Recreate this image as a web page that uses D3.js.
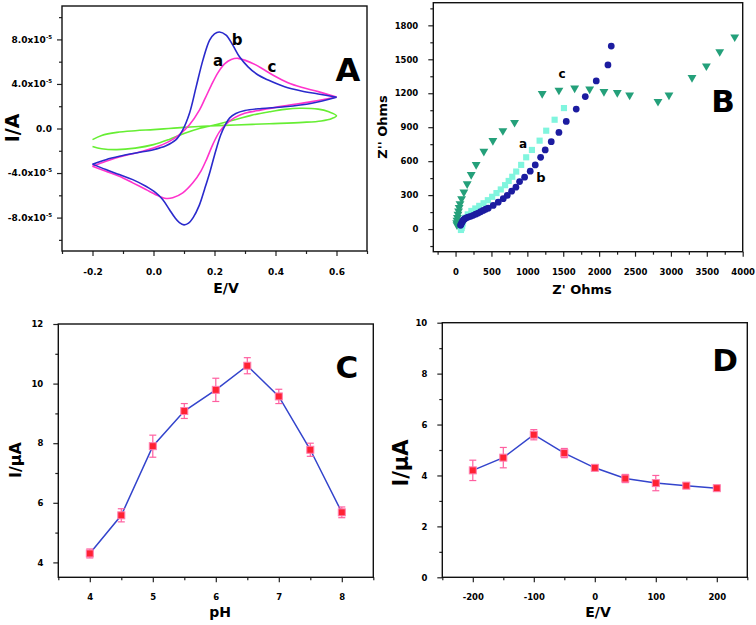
<!DOCTYPE html>
<html><head><meta charset="utf-8">
<script src="https://cdn.jsdelivr.net/npm/d3@7"></script>
<style>
body{margin:0;background:#fff}
text{font-family:"DejaVu Sans",sans-serif;font-weight:bold;fill:#000}
</style>
</head><body>
<svg id="chart" width="756" height="625"></svg>
<script>
// ---------------- DATA ----------------
// Panel A: cyclic voltammograms (E in V, I in units of 1e-5 A)
const cvUnit = 1e-5;
const cvBlueFwd = [[-0.2,-3.2],[-0.156,-2.8],[-0.112,-2.5],[-0.058,-2.2],[0.0,-1.9],[0.041,-1.55],[0.074,-1.0],[0.096,-0.12],[0.118,1.37],[0.14,3.76],[0.162,6.14],[0.184,7.93],[0.2,8.5],[0.216,8.67],[0.238,8.38],[0.26,7.48],[0.282,6.44],[0.31,5.54],[0.343,4.8],[0.376,4.35],[0.43,3.75],[0.485,3.37],[0.54,3.1],[0.6,2.81]];
const cvBlueRev = [[0.6,2.81],[0.519,2.27],[0.43,1.95],[0.354,1.8],[0.3,1.62],[0.27,1.35],[0.25,0.95],[0.235,0.3],[0.22,-0.6],[0.2,-2.4],[0.185,-3.9],[0.168,-5.4],[0.15,-6.9],[0.13,-8.0],[0.115,-8.5],[0.1,-8.65],[0.085,-8.45],[0.07,-8.0],[0.052,-7.27],[0.03,-6.37],[0.008,-5.78],[-0.025,-5.19],[-0.068,-4.59],[-0.112,-4.14],[-0.156,-3.69],[-0.2,-3.2]];
const cvPinkFwd = [[-0.2,-3.4],[-0.156,-2.95],[-0.112,-2.56],[-0.058,-2.2],[0.0,-1.75],[0.052,-1.16],[0.085,-0.56],[0.118,0.33],[0.151,1.67],[0.17,2.75],[0.189,3.85],[0.211,5.0],[0.233,5.8],[0.255,6.2],[0.277,6.3],[0.299,6.14],[0.332,5.76],[0.364,5.25],[0.397,4.71],[0.441,4.11],[0.485,3.7],[0.54,3.31],[0.6,2.83]];
const cvPinkRev = [[0.6,2.83],[0.519,2.41],[0.43,2.03],[0.354,1.67],[0.299,1.37],[0.266,0.98],[0.238,0.4],[0.216,-0.3],[0.195,-1.4],[0.175,-2.7],[0.156,-3.8],[0.129,-4.88],[0.096,-5.78],[0.063,-6.22],[0.041,-6.28],[0.019,-6.08],[-0.025,-5.48],[-0.068,-4.88],[-0.112,-4.29],[-0.156,-3.84],[-0.2,-3.4]];
const cvGreen = [[-0.2,-1.62],[-0.17,-1.82],[-0.12,-1.9],[-0.06,-1.76],[0.0,-1.45],[0.05,-1.0],[0.1,-0.45],[0.15,0.0],[0.21,0.38],[0.27,0.8],[0.32,1.18],[0.38,1.5],[0.43,1.72],[0.48,1.82],[0.54,1.74],[0.575,1.5],[0.6,1.15],[0.585,0.9],[0.55,0.68],[0.49,0.55],[0.38,0.43],[0.27,0.32],[0.16,0.2],[0.1,0.1],[0.05,0.0],[0.0,-0.1],[-0.06,-0.2],[-0.12,-0.35],[-0.17,-0.62],[-0.2,-1.0]];
const aXTicks = [-0.2,0,0.2,0.4,0.6];
const aXTickLabels = ["-0.2","0.0","0.2","0.4","0.6"];
const aYTicks = [-8e-5,-4e-5,0,4e-5,8e-5];

// Panel B: Nyquist plots (Z' , Z'' in Ohms)
const eisA = [[1510,1069],[1380,966],[1263,869],[1171,781],[1064,699],[984,634],[914,567],[845,508],[790,462],[740,425],[690,388],[630,350],[570,318],[510,285],[450,255],[390,228],[330,205],[275,182],[220,160],[170,130],[130,100],[106,75],[98,50],[92,28],[85,8],[75,-8]];
const eisB = [[2169,1617],[2123,1450],[1960,1309],[1807,1171],[1681,1060],[1542,951],[1440,854],[1333,772],[1249,699],[1185,634],[1110,567],[1040,511],[962,458],[892,420],[841,370],[781,335],[720,297],[664,268],[594,238],[524,209],[455,185],[420,175],[385,165],[350,153],[315,141],[280,131],[245,121],[210,113],[176,106],[150,99],[130,92],[115,84],[106,77],[95,65],[84,53],[76,42],[70,33]];
const eisC = [[3889,1697],[3680,1567],[3494,1441],[3294,1338],[2973,1183],[2820,1127],[2425,1183],[2253,1206],[2067,1215],[1868,1236],[1659,1245],[1440,1227],[1207,1197],[822,942],[659,869],[520,781],[394,687],[287,570],[218,482],[162,400],[116,326],[84,268],[62,224],[50,190],[42,160],[34,130],[26,102],[20,78],[16,55],[20,38]];
const bXTicks = [0,500,1000,1500,2000,2500,3000,3500,4000];
const bYTicks = [0,300,600,900,1200,1500,1800];

// Panel C: current vs pH
const phValues = [4,4.5,5,5.5,6,6.5,7,7.5,8];
const phCurrent = [4.3,5.58,7.9,9.08,9.79,10.6,9.57,7.78,5.68];
const phError = [0.15,0.22,0.37,0.25,0.39,0.27,0.24,0.22,0.18];
const cXTicks = [4,5,6,7,8];
const cYTicks = [4,6,8,10,12];

// Panel D: current vs potential
const potValues = [-200,-150,-100,-50,0,50,100,150,200];
const potCurrent = [4.2,4.7,5.6,4.88,4.3,3.88,3.7,3.6,3.5];
const potError = [0.4,0.4,0.2,0.18,0.1,0.16,0.3,0.1,0.08];
const dXTicks = [-200,-100,0,100,200];
const dYTicks = [0,2,4,6,8,10];

// ---------------- DRAWING ----------------
const svg = d3.select("#chart");

function mids(t){ const r=[]; for(let i=0;i<t.length-1;i++) r.push((t[i]+t[i+1])/2); return r; }

function drawFrame(g, x, y, o){
  const [x0,x1]=x.range(), [y0,y1]=y.range();
  const mx = g.append("g").attr("transform",`translate(0,${y0})`)
    .call(d3.axisBottom(x).tickValues(o.xMinor).tickSize(3).tickFormat(""));
  const my = g.append("g").attr("transform",`translate(${x0},0)`)
    .call(d3.axisLeft(y).tickValues(o.yMinor).tickSize(3).tickFormat(""));
  const ax = g.append("g").attr("transform",`translate(0,${y0})`)
    .call(d3.axisBottom(x).tickValues(o.xMajor).tickSize(5).tickPadding(o.xPad).tickSizeOuter(0)
      .tickFormat((d,i)=>o.xLabels?o.xLabels[i]:String(d)));
  const ay = g.append("g").attr("transform",`translate(${x0},0)`)
    .call(d3.axisLeft(y).tickValues(o.yMajor).tickSize(5).tickPadding(o.yPad).tickSizeOuter(0)
      .tickFormat(o.yFmt||(d=>String(d))));
  [mx,my,ax,ay].forEach(a=>{
    a.select(".domain").remove();
    a.selectAll("line").attr("stroke","#222").attr("stroke-width",1.2);
    a.selectAll("text").attr("font-family","DejaVu Sans").attr("font-weight","bold")
      .attr("font-size",o.fs||8.5).attr("fill","#111");
  });
  g.append("rect").attr("x",x0).attr("y",y1).attr("width",x1-x0).attr("height",y0-y1)
    .attr("fill","none").attr("stroke","#111").attr("stroke-width",1.4);
  return ay;
}

function title(g, txt, x, y, size, rot){
  g.append("text").attr("x",x).attr("y",y).attr("text-anchor","middle")
    .attr("dominant-baseline","central").attr("font-size",size)
    .attr("transform",rot?`rotate(-90,${x},${y})`:null).text(txt);
}
function bigLetter(g, txt, x, y, size, fam){
  g.append("text").attr("x",x).attr("y",y).attr("text-anchor","middle")
    .attr("dominant-baseline","central").attr("font-size",size)
    .attr("font-family",fam).attr("font-weight","bold").text(txt);
}

// ----- Panel A -----
{
  const g = svg.append("g");
  const x = d3.scaleLinear().domain([-0.3,0.7]).range([62,367]);
  const y = d3.scaleLinear().domain([-1.1e-4,1.1e-4]).range([251,6]);
  const ay = drawFrame(g,x,y,{xMajor:aXTicks,xLabels:aXTickLabels,xMinor:mids(aXTicks).concat([-0.3,0.7]),
    yMajor:aYTicks,yMinor:mids(aYTicks).concat([-1e-4,1e-4]),xPad:13,yPad:5,fs:9,
    yFmt:d=>d===0?"0.0":(d/1e-5).toFixed(1)+"x10"});
  ay.selectAll("text").each(function(d){
    if(d!==0){ d3.select(this).append("tspan").attr("font-size",5.5).attr("dy",-4).text("-5"); }
  });
  const line = d3.line().x(d=>x(d[0])).y(d=>y(d[1]*cvUnit)).curve(d3.curveCatmullRom.alpha(0.5));
  g.append("path").attr("d",line(cvGreen)).attr("fill","none").attr("stroke","#66ee33").attr("stroke-width",1.6);
  [cvPinkFwd,cvPinkRev].forEach(s=>g.append("path").attr("d",line(s)).attr("fill","none").attr("stroke","#ff33cc").attr("stroke-width",1.6));
  [cvBlueFwd,cvBlueRev].forEach(s=>g.append("path").attr("d",line(s)).attr("fill","none").attr("stroke","#2a2acc").attr("stroke-width",1.6));
  title(g,"a",218,61,15); title(g,"b",237,40,15); title(g,"c",272,67,15);
  title(g,"I/A",12,128,19,true);
  title(g,"E/V",226,288,14);
  bigLetter(g,"A",348,70,32,"Liberation Sans");
}

// ----- Panel B -----
{
  const g = svg.append("g");
  const x = d3.scaleLinear().domain([-310,4000]).range([433.3,742.7]);
  const y = d3.scaleLinear().domain([-200,2000]).range([251.7,2.7]);
  drawFrame(g,x,y,{xMajor:bXTicks,xMinor:mids(bXTicks).concat([-250]),
    yMajor:bYTicks,yMinor:mids(bYTicks).concat([-150,1950]),xPad:12,yPad:10,fs:8.5});
  const tri = d3.symbol(d3.symbolTriangle,34)();
  const sq = d3.symbol(d3.symbolSquare,38)();
  const ci = d3.symbol(d3.symbolCircle,36)();
  g.append("g").selectAll("path").data(eisC).join("path").attr("d",tri)
    .attr("transform",d=>`translate(${x(d[0])},${y(d[1])}) rotate(180)`).attr("fill","#24a07a");
  g.append("g").selectAll("path").data(eisA).join("path").attr("d",sq)
    .attr("transform",d=>`translate(${x(d[0])},${y(d[1])})`).attr("fill","#80f5de");
  g.append("g").selectAll("path").data(eisB).join("path").attr("d",ci)
    .attr("transform",d=>`translate(${x(d[0])},${y(d[1])})`).attr("fill","#1c1ca0");
  title(g,"a",523,144,12); title(g,"b",541,177,13); title(g,"c",562,74,12);
  title(g,"Z'' Ohms",382,127,13,true);
  title(g,"Z' Ohms",582,289,13);
  bigLetter(g,"B",723,101,31,"Open Sans");
}

function errPanel(xs, ys, es, x, y, g){
  const line = d3.line().x((d,i)=>x(xs[i])).y(d=>y(d));
  g.append("path").attr("d",line(ys)).attr("fill","none").attr("stroke","#3344cc").attr("stroke-width",1.5);
  const eg = g.append("g").attr("stroke","#ff5fa0").attr("stroke-width",1.2);
  xs.forEach((v,i)=>{
    const cx=x(v), t=y(ys[i]+es[i]), b=y(ys[i]-es[i]);
    eg.append("line").attr("x1",cx).attr("x2",cx).attr("y1",t).attr("y2",b);
    eg.append("line").attr("x1",cx-3.5).attr("x2",cx+3.5).attr("y1",t).attr("y2",t);
    eg.append("line").attr("x1",cx-3.5).attr("x2",cx+3.5).attr("y1",b).attr("y2",b);
  });
  g.append("g").selectAll("rect").data(ys).join("rect")
    .attr("x",(d,i)=>x(xs[i])-3.5).attr("y",d=>y(d)-3.5).attr("width",7).attr("height",7)
    .attr("fill","#ff2233").attr("stroke","#ff7fb0").attr("stroke-width",1);
}

// ----- Panel C -----
{
  const g = svg.append("g");
  const x = d3.scaleLinear().domain([3.5,8.5]).range([58.3,373.3]);
  const y = d3.scaleLinear().domain([3.5,12]).range([577.3,324]);
  drawFrame(g,x,y,{xMajor:cXTicks,xMinor:mids(cXTicks).concat([3.5,8.5]),
    yMajor:cYTicks,yMinor:mids(cYTicks),xPad:12,yPad:10,fs:8.5});
  errPanel(phValues,phCurrent,phError,x,y,g);
  title(g,"I/\u03bcA",15,460,16,true);
  title(g,"pH",220,612,14);
  bigLetter(g,"C",347,367,31,"Open Sans");
}

// ----- Panel D -----
{
  const g = svg.append("g");
  const x = d3.scaleLinear().domain([-250,250]).range([442.3,747.3]);
  const y = d3.scaleLinear().domain([0,10]).range([577.3,322.7]);
  drawFrame(g,x,y,{xMajor:dXTicks,xMinor:mids(dXTicks).concat([-250,250]),
    yMajor:dYTicks,yMinor:mids(dYTicks),xPad:12,yPad:10,fs:8.5});
  errPanel(potValues,potCurrent,potError,x,y,g);
  title(g,"I/\u03bcA",401,463,21,true);
  title(g,"E/V",598,612,14);
  bigLetter(g,"D",725,360,31,"Open Sans");
}
</script>
</body></html>
